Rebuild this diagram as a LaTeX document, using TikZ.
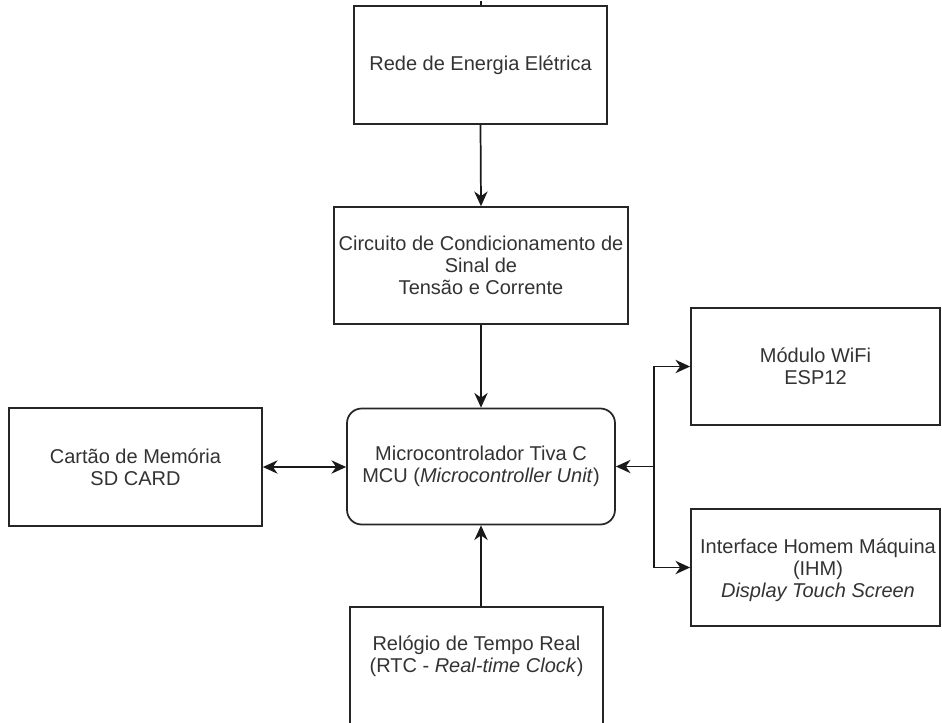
\documentclass[tikz,border=0pt]{standalone}
\usepackage{fontspec}
\setmainfont{Liberation Sans}
\usetikzlibrary{arrows.meta,calc}
\begin{document}
\begin{tikzpicture}[x=0.75pt,y=-0.75pt,
  box/.style={draw=black!85,line width=1.3pt,fill=white,align=center,text=black!80,
    font=\fontsize{15}{16.5}\selectfont,inner sep=0pt},
  txt/.style={align=center,text=black!80,font=\fontsize{15}{16.5}\selectfont,inner sep=0pt},
  conn/.style={draw=black!90,line width=1.3pt},
  arr/.style={conn,-{Stealth[length=11pt,width=10pt,inset=3.5pt]}},
  darr/.style={conn,{Stealth[length=11pt,width=10pt,inset=3.5pt]}-{Stealth[length=11pt,width=10pt,inset=3.5pt]}}]
\useasboundingbox (0,0) rectangle (942,722);
\node[box,minimum width=253*0.75pt,minimum height=118*0.75pt] (rede) at (480.5,65) {Rede de Energia Elétrica};
\node[box,minimum width=294*0.75pt,minimum height=117*0.75pt] (circ) at (481,265.5) {Circuito de Condicionamento de\\Sinal de\\Tensão e Corrente};
\node[box,rounded corners=11pt,minimum width=268*0.75pt,minimum height=116*0.75pt] (mcu) at (481,466.5) {Microcontrolador Tiva C\\MCU (\textit{Microcontroller Unit})};
\node[box,minimum width=253*0.75pt,minimum height=118*0.75pt] (sd) at (135.5,467) {Cartão de Memória\\SD CARD};
\node[box,minimum width=249*0.75pt,minimum height=117*0.75pt] (wifi) at (815.5,366.5) {Módulo WiFi\\ESP12};
\node[box,minimum width=249*0.75pt,minimum height=117*0.75pt] (ihm) at (815.5,567.5) {};
\node[txt] (ihmtxt) at (818,570) {Interface Homem Máquina\\(IHM)\\\textit{Display Touch Screen}};
\node[box,minimum width=253*0.75pt,minimum height=136*0.75pt] (rtc) at (476.5,675) {};
\node[txt] (rtctxt) at (476.5,656) {Relógio de Tempo Real\\(RTC - \textit{Real-time Clock})};
\coordinate (topin) at (481,1);
\coordinate (j) at (654,466.5);
\draw[conn] (topin) -- (rede.north -| topin);
\draw[arr] (rede.south) -- (circ.north);
\draw[arr] (circ.south) -- (mcu.north);
\draw[arr] (rtc.north -| mcu.south) -- (mcu.south);
\draw[darr] (sd.east) -- (mcu.west |- sd.east);
\draw[arr] (j) -- (mcu.east);
\draw[arr] (j) |- (wifi.west);
\draw[arr] (j) |- (ihm.west);
\end{tikzpicture}
\end{document}
